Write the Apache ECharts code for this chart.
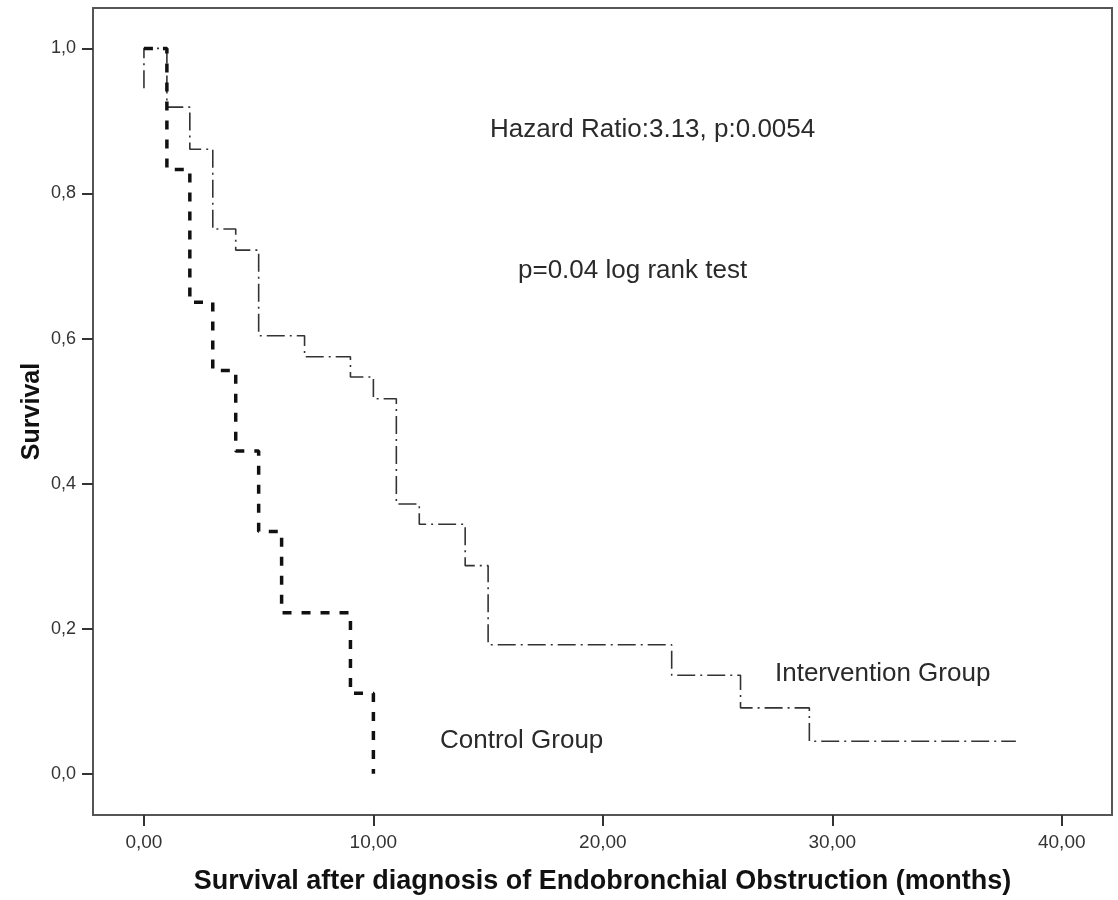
<!DOCTYPE html>
<html>
<head>
<meta charset="utf-8">
<script src="https://cdn.jsdelivr.net/npm/echarts@6/dist/echarts.min.js"></script>
<style>
html,body{margin:0;padding:0;background:#fff}
#main{width:1118px;height:900px}
</style>
</head>
<body>
<div id="main"></div>
<script>
// Intervention group, thin dash-dot step line
var interTime = [0, 0, 1, 2, 3, 4, 5, 7, 9, 10, 11, 12, 14, 15, 23, 26, 29, 38];
var interSurv = [0.945, 1.0, 0.919, 0.861, 0.751, 0.722, 0.604, 0.575, 0.547, 0.517, 0.372, 0.344, 0.287, 0.178, 0.136, 0.091, 0.045, 0.045];

// Control group, thick dashed step line
var ctrlTime = [0, 1, 2, 3, 4, 5, 6, 9, 10];
var ctrlSurv = [1.0, 0.833, 0.65, 0.556, 0.445, 0.334, 0.222, 0.111, 0.0];

var xTicks = [0, 10, 20, 30, 40];
var yTicks = [0, 0.2, 0.4, 0.6, 0.8, 1.0];

function pairs(t, s) {
    var out = [];
    for (var i = 0; i < t.length; i++) {
        out.push([t[i], s[i]]);
    }
    return out;
}

var font = '"Liberation Sans", Arial, sans-serif';

var chart = echarts.init(document.getElementById('main'));
var option = {
    animation: false,
    backgroundColor: '#fff',
    grid: {
        left: 93, right: 6, top: 8, bottom: 83,
        show: true, borderColor: '#555', borderWidth: 2
    },
    xAxis: {
        type: 'value',
        min: -2.22,
        max: 42.19,
        name: 'Survival after diagnosis of Endobronchial Obstruction (months)',
        nameLocation: 'middle',
        nameGap: 53,
        nameTextStyle: {fontSize: 27, fontWeight: 'bold', color: '#111', fontFamily: font},
        axisLine: {show: true, onZero: false, lineStyle: {color: '#555', width: 2}},
        axisTick: {show: true, customValues: xTicks, length: 11, lineStyle: {color: '#333', width: 2}},
        axisLabel: {
            customValues: xTicks,
            margin: 18,
            fontSize: 19,
            color: '#333',
            fontFamily: font,
            formatter: function (v) { return v.toFixed(2).replace('.', ','); }
        },
        splitLine: {show: false}
    },
    yAxis: {
        type: 'value',
        min: -0.0567,
        max: 1.0557,
        name: 'Survival',
        nameLocation: 'middle',
        nameRotate: 90,
        nameGap: 48,
        nameMoveOverlap: false,
        nameTextStyle: {fontSize: 25, fontWeight: 'bold', color: '#111', fontFamily: font},
        axisLine: {show: true, onZero: false, lineStyle: {color: '#555', width: 2}},
        axisTick: {show: true, customValues: yTicks, length: 11, lineStyle: {color: '#333', width: 2}},
        axisLabel: {
            customValues: yTicks,
            margin: 17,
            fontSize: 18,
            color: '#333',
            fontFamily: font,
            formatter: function (v) { return v.toFixed(1).replace('.', ','); }
        },
        splitLine: {show: false}
    },
    series: [
        {
            name: 'Intervention Group',
            type: 'line',
            step: 'end',
            showSymbol: false,
            data: pairs(interTime, interSurv),
            lineStyle: {color: '#333', width: 1.6, type: [18, 5, 2, 5]}
        },
        {
            name: 'Control Group',
            type: 'line',
            step: 'end',
            showSymbol: false,
            data: pairs(ctrlTime, ctrlSurv),
            lineStyle: {color: '#111', width: 3.5, type: [9, 10]}
        }
    ],
    graphic: [
        {type: 'text', left: 490, top: 117, style: {text: 'Hazard Ratio:3.13, p:0.0054', font: '26px ' + font, fill: '#2a2a2a'}},
        {type: 'text', left: 518, top: 258, style: {text: 'p=0.04 log rank test', font: '26px ' + font, fill: '#2a2a2a'}},
        {type: 'text', left: 775, top: 661, style: {text: 'Intervention Group', font: '26px ' + font, fill: '#2a2a2a'}},
        {type: 'text', left: 440, top: 728, style: {text: 'Control Group', font: '26px ' + font, fill: '#2a2a2a'}}
    ]
};
chart.setOption(option);
</script>
</body>
</html>
